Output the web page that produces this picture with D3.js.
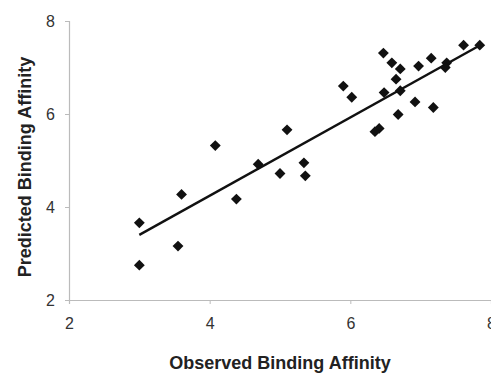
<!DOCTYPE html>
<html>
<head>
<meta charset="utf-8">
<script src="https://cdn.jsdelivr.net/npm/d3@7"></script>
<style>
  body { margin: 0; background: #fff; }
  svg { display: block; font-family: "Liberation Sans", Arial, sans-serif; }
</style>
</head>
<body>
<svg id="chart" width="491" height="375"></svg>
<script>
// observed vs predicted binding affinity
var observed = [6.47, 6.59, 6.71, 6.65, 6.97, 7.15, 7.37, 7.35, 7.61, 7.84,
  5.90, 6.02, 6.48, 6.71, 6.92, 7.18, 6.68, 6.41, 6.35, 5.10,
  4.69, 5.00, 5.34, 5.36, 4.08, 3.60, 4.38, 3.00, 3.55, 3.00];
var predicted = [7.31, 7.10, 6.97, 6.75, 7.03, 7.20, 7.10, 7.00, 7.48, 7.48,
  6.60, 6.36, 6.46, 6.50, 6.26, 6.14, 5.99, 5.69, 5.62, 5.66,
  4.92, 4.72, 4.95, 4.67, 5.32, 4.27, 4.17, 3.66, 3.16, 2.75];
var fitX = [3.0, 7.87];
var fitY = [3.4, 7.5];
var xTicks = [2, 4, 6, 8];
var yTicks = [2, 4, 6, 8];

var svg = d3.select("#chart");
var x = d3.scaleLinear().domain([2, 8]).range([69, 491]);
var y = d3.scaleLinear().domain([2, 8]).range([300, 21]);

var xAxis = svg.append("g")
  .attr("transform", "translate(0," + y(2) + ")")
  .call(d3.axisBottom(x).tickValues(xTicks).tickSize(4).tickPadding(14).tickFormat(d3.format("d")));
var yAxis = svg.append("g")
  .attr("transform", "translate(" + x(2) + ",0)")
  .call(d3.axisLeft(y).tickValues(yTicks).tickSize(4).tickPadding(10).tickFormat(d3.format("d")));

[xAxis, yAxis].forEach(function(a) {
  a.select(".domain").attr("stroke", "#bbb").attr("stroke-width", 1.2);
  a.selectAll(".tick line").attr("stroke", "#bbb");
  a.selectAll(".tick text")
    .attr("fill", "#333")
    .attr("font-size", 16)
    .attr("font-family", "Liberation Sans, Arial, sans-serif");
});

svg.append("line")
  .attr("x1", x(fitX[0])).attr("y1", y(fitY[0]))
  .attr("x2", x(fitX[1])).attr("y2", y(fitY[1]))
  .attr("stroke", "#111")
  .attr("stroke-width", 2.4);

var pts = observed.map(function(d, i) { return { x: d, y: predicted[i] }; });
var diamond = d3.symbol().type(d3.symbolDiamond2).size(75);
svg.append("g")
  .selectAll("path")
  .data(pts)
  .enter()
  .append("path")
  .attr("d", diamond)
  .attr("transform", function(d) {
    return "translate(" + x(d.x) + "," + y(d.y) + ")";
  })
  .attr("fill", "#111");

svg.append("text")
  .attr("x", 280)
  .attr("y", 369)
  .attr("text-anchor", "middle")
  .attr("font-weight", "bold")
  .attr("font-size", 18)
  .attr("fill", "#222")
  .text("Observed Binding Affinity");

svg.append("text")
  .attr("transform", "translate(31,167) rotate(-90)")
  .attr("text-anchor", "middle")
  .attr("font-weight", "bold")
  .attr("font-size", 18)
  .attr("fill", "#222")
  .text("Predicted Binding Affinity");
</script>
</body>
</html>
